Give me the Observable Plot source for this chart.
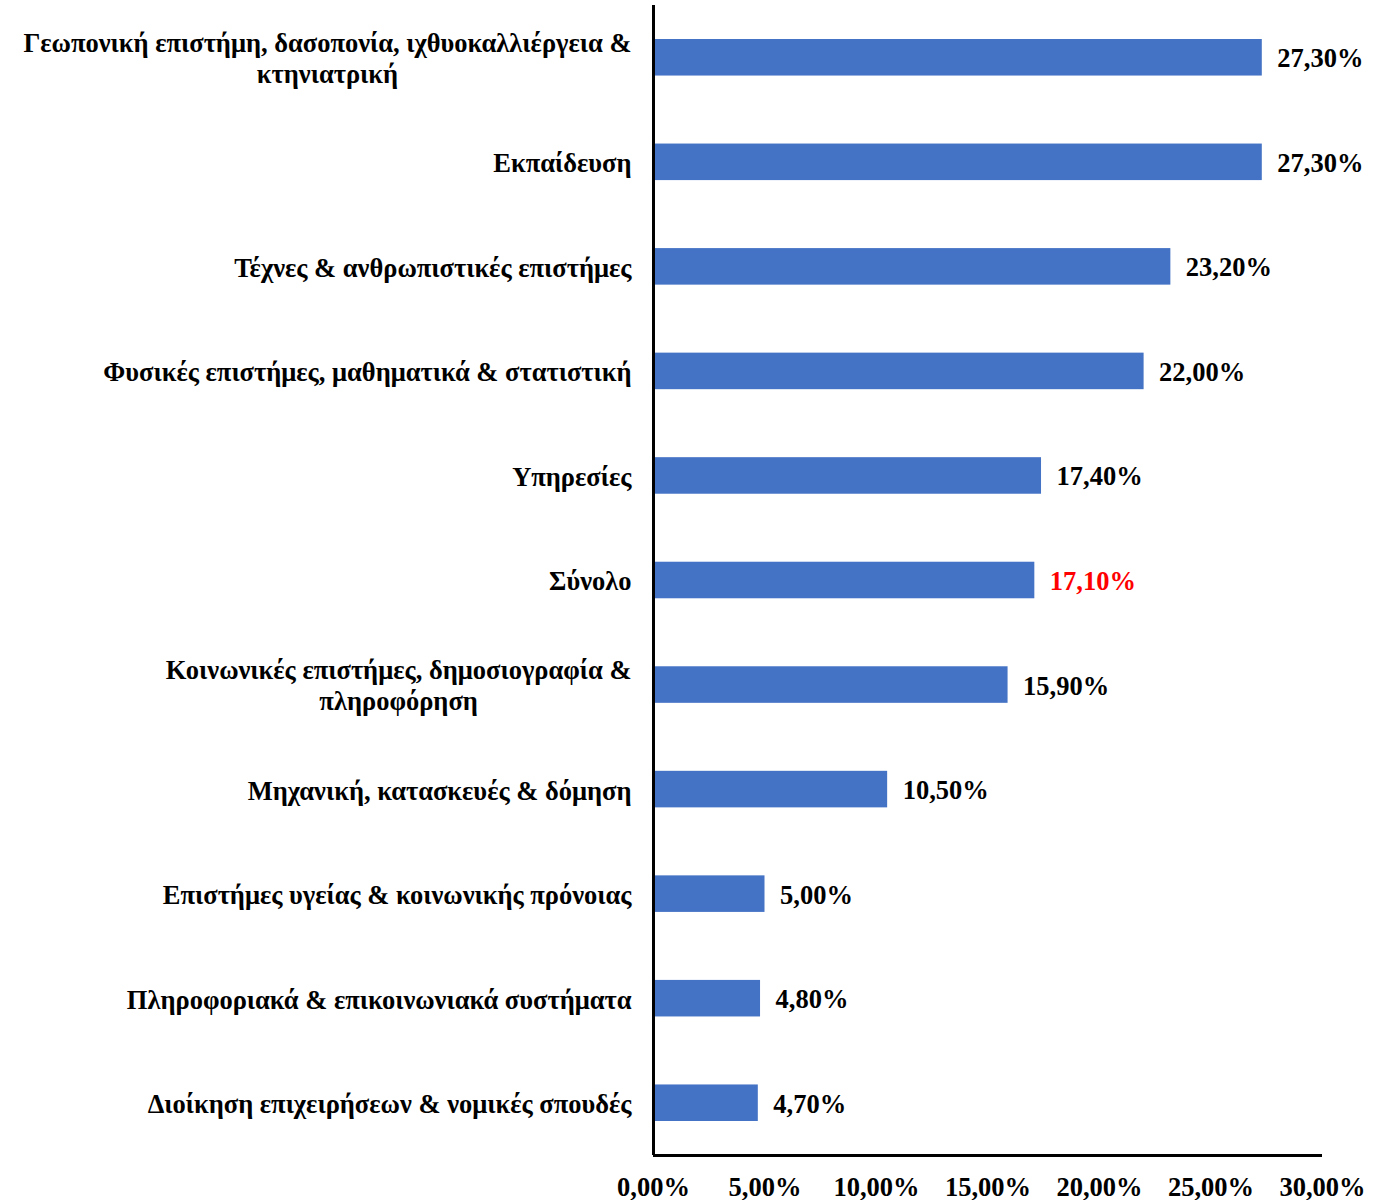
<!DOCTYPE html>
<html><head><meta charset="utf-8">
<script src="https://cdn.jsdelivr.net/npm/d3@7"></script>
<script src="https://cdn.jsdelivr.net/npm/@observablehq/plot@0.6"></script>
<style>body{margin:0;background:#fff}</style>
</head><body><div id="chart"></div>
<script>
const categories = [
  "Γεωπονική επιστήμη, δασοπονία, ιχθυοκαλλιέργεια &\nκτηνιατρική",
  "Εκπαίδευση",
  "Τέχνες & ανθρωπιστικές επιστήμες",
  "Φυσικές επιστήμες, μαθηματικά & στατιστική",
  "Υπηρεσίες",
  "Σύνολο",
  "Κοινωνικές επιστήμες, δημοσιογραφία &\nπληροφόρηση",
  "Μηχανική, κατασκευές & δόμηση",
  "Επιστήμες υγείας & κοινωνικής πρόνοιας",
  "Πληροφοριακά & επικοινωνιακά συστήματα",
  "Διοίκηση επιχειρήσεων & νομικές σπουδές"
];
const values = [27.3, 27.3, 23.2, 22.0, 17.4, 17.1, 15.9, 10.5, 5.0, 4.8, 4.7];
const highlight = "Σύνολο";
const xTicks = [0, 5, 10, 15, 20, 25, 30];

const data = categories.map((c, i) => ({cat: c, value: values[i]}));
const fmt = v => v.toFixed(2).replace(".", ",") + "%";
const FONT = "'Liberation Serif', 'Times New Roman', serif";
const FS = 26.5;

const canvas = document.createElement("canvas");
const ctx = canvas.getContext("2d");
ctx.font = `bold ${FS}px ${FONT}`;
const blockWidth = s => Math.max(...s.split("\n").map(l => ctx.measureText(l).width));

const labelMarks = categories.map(c => Plot.text([c], {
  x: () => 0, y: d => d, text: d => d,
  textAnchor: "middle", lineHeight: 1.17,
  dx: -(22 + blockWidth(c) / 2),
  fontSize: FS, fontWeight: "bold", fill: "black"
}));

const plotH = 1150, stepHalf = plotH / categories.length / 2;

const chart = Plot.plot({
  width: 1383, height: 1200,
  marginLeft: 653, marginRight: 61, marginTop: 5, marginBottom: 45,
  style: {fontFamily: FONT, background: "white"},
  x: {domain: [0, 30], axis: null},
  y: {domain: categories, padding: 0, round: false, axis: null},
  marks: [
    Plot.barX(data, {x: "value", y: "cat", fill: "#4472C4", insetTop: 34, insetBottom: 34}),
    Plot.text(data, {x: "value", y: "cat", text: d => fmt(d.value), textAnchor: "start", dx: 15, dy: 1,
      fontSize: FS, fontWeight: "bold", fill: d => d.cat === highlight ? "#FF0000" : "black"}),
    ...labelMarks,
    Plot.ruleX([0], {strokeWidth: 3, stroke: "black"}),
    Plot.ruleY([categories[categories.length - 1]], {y: d => d, dy: stepHalf, x1: 0, x2: 30, strokeWidth: 3, stroke: "black"}),
    Plot.text(xTicks, {x: d => d, frameAnchor: "bottom", dy: 40, text: d => fmt(d),
      fontSize: FS, fontWeight: "bold", fill: "black", textAnchor: "middle"})
  ]
});
document.getElementById("chart").appendChild(chart);
</script>
</body></html>
